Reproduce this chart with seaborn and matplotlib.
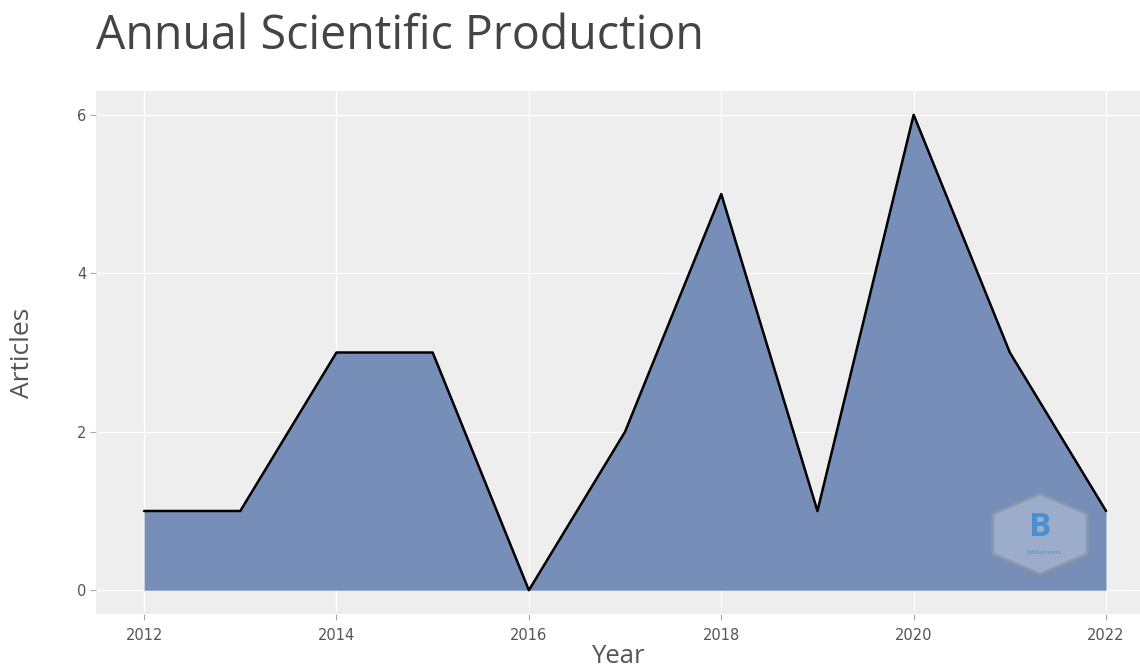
import pandas as pd
import seaborn as sns
import matplotlib.pyplot as plt
from matplotlib.patches import Polygon

sns.set_theme(style="darkgrid")
plt.rcParams['font.family'] = ['Open Sans', 'DejaVu Sans']

years = [2012, 2013, 2014, 2015, 2016, 2017, 2018, 2019, 2020, 2021, 2022]
articles = [1, 1, 3, 3, 0, 2, 5, 1, 6, 3, 1]
xticks = [2012, 2014, 2016, 2018, 2020, 2022]
yticks = [0, 2, 4, 6]

df = pd.DataFrame({"Year": years, "Articles": articles})

W, H = 1140, 672
fig = plt.figure(figsize=(W / 100, H / 100), dpi=100)
ax = fig.add_axes([96 / W, 58 / H, 1044 / W, 523 / H])
ax.set_facecolor('#eeeeee')

ax.fill_between(df["Year"], 0, df["Articles"], color='#778fb8', linewidth=0)
sns.lineplot(data=df, x="Year", y="Articles", color='black', linewidth=1.8, ax=ax)

ax.set_xlim(2011.5, 2022.353)
ax.set_ylim(-0.3, 6.3)
ax.set_xticks(xticks)
ax.set_yticks(yticks)
ax.grid(color='white', linewidth=0.9)
for s in ax.spines.values():
    s.set_visible(False)
ax.tick_params(axis='both', length=4, width=0.8, color='#aaaaaa',
               labelsize=10.5, labelcolor='#555555', bottom=True, left=True)
ax.tick_params(axis='x', pad=6)
ax.tick_params(axis='y', pad=3)
for lab in ax.get_xticklabels() + ax.get_yticklabels():
    lab.set_family('DejaVu Sans')

ax.set_xlabel("Year", fontsize=18.5, color='#555555', labelpad=1)
ax.set_ylabel("Articles", fontsize=19, color='#555555', labelpad=30)
fig.text(96 / W, 1 - 36 / H, "Annual Scientific Production", fontsize=33.5,
         color='#444444', va='center', ha='left')

# watermark logo
cx, cy = 1040, 534
pts = [(0, -40), (47, -20), (47, 20), (0, 40), (-47, 20), (-47, -20)]
hexa = Polygon([((cx + dx) / W, 1 - (cy + dy) / H) for dx, dy in pts],
               closed=True, transform=fig.transFigure, facecolor='#a3b3cf',
               edgecolor='#8e98ab', linewidth=2, alpha=0.85)
fig.patches.append(hexa)
fig.text(cx / W, 1 - (cy - 6) / H, "B", fontsize=24, color='#4a90d0',
         ha='center', va='center', fontweight='bold')
fig.text((cx + 4) / W, 1 - (cy + 18) / H, "bibliometrix", fontsize=4.5,
         color='#4a90d0', ha='center', va='center')

plt.savefig("out.png", dpi=100)
